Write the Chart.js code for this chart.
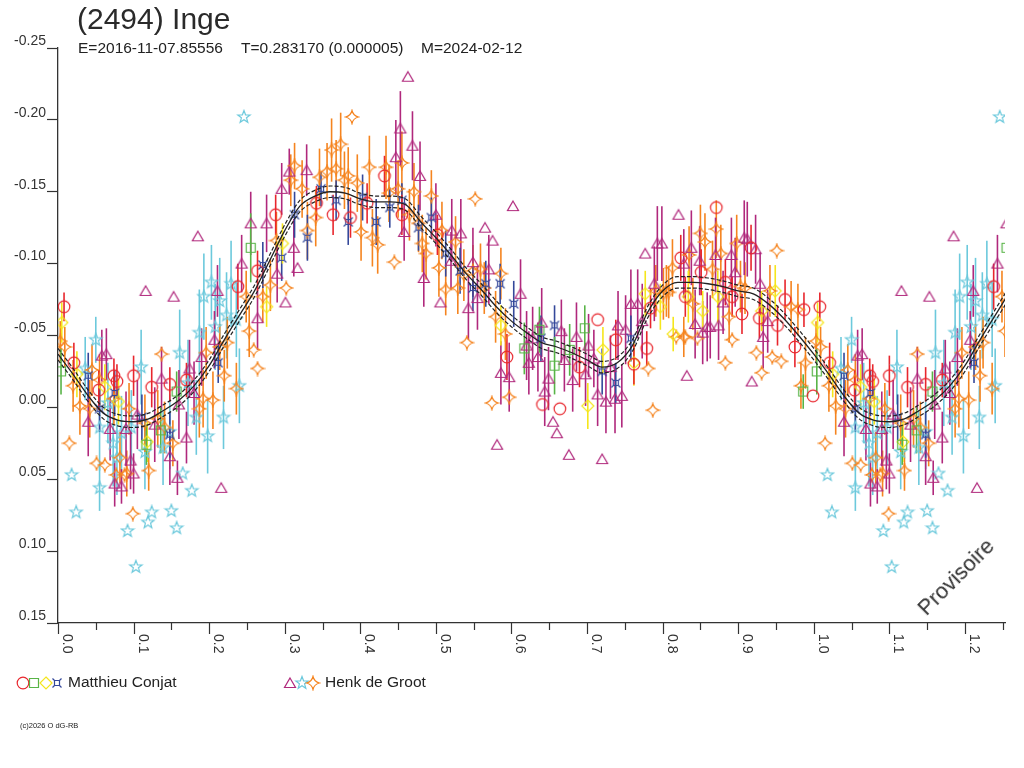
<!DOCTYPE html>
<html>
<head>
<meta charset="utf-8">
<title>(2494) Inge</title>
<script src="https://cdn.jsdelivr.net/npm/chart.js@4.4.1/dist/chart.umd.min.js"></script>
<style>
body { margin: 0; background: #fff; font-family: "Liberation Sans", Arial, sans-serif; color: #222; }
#wrap { position: relative; width: 1024px; height: 768px; overflow: hidden; }
canvas { position: absolute; left: 0; top: 0; }
.t { position: absolute; white-space: pre; line-height: 1; }
</style>
</head>
<body>
<div id="wrap">
<canvas id="lc" width="1024" height="768"></canvas>
<div class="t" style="left:77px;top:4px;font-size:30px;color:#2a2a2a">(2494) Inge</div>
<div class="t" style="left:78px;top:40px;font-size:15.5px">E=2016-11-07.85556</div>
<div class="t" style="left:241px;top:40px;font-size:15.5px">T=0.283170 (0.000005)</div>
<div class="t" style="left:421px;top:40px;font-size:15.5px">M=2024-02-12</div>
<div class="t" style="left:68px;top:674px;font-size:15.5px">Matthieu Conjat</div>
<div class="t" style="left:325px;top:674px;font-size:15.5px">Henk de Groot</div>
<div class="t" style="left:20px;top:722px;font-size:7.5px">(c)2026 O dG-RB</div>
<div class="t" style="left:956px;top:577px;font-size:22px;color:#333;transform:translate(-50%,-50%) rotate(-45deg)">Provisoire</div>
</div>
<script>
// phase range shown (phase-folded, 0..1 repeated past 1.0)
const xMax = 1.253;
const xTickValues = [0, 0.05, 0.1, 0.15, 0.2, 0.25, 0.3, 0.35, 0.4, 0.45, 0.5, 0.55, 0.6, 0.65,
    0.7, 0.75, 0.8, 0.85, 0.9, 0.95, 1.0, 1.05, 1.1, 1.15, 1.2, 1.25];
const xTickLabels = ['0.0', '', '0.1', '', '0.2', '', '0.3', '', '0.4', '', '0.5', '', '0.6', '',
    '0.7', '', '0.8', '', '0.9', '', '1.0', '', '1.1', '', '1.2', ''];
const yTickValues = [-0.25, -0.20, -0.15, -0.10, -0.05, 0.00, 0.05, 0.10, 0.15];
const yTickLabels = ['-0.25', '-0.20', '-0.15', '-0.10', '-0.05', '0.00', '0.05', '0.10', '0.15'];

// fitted light curve (phase, magnitude) and its uncertainty
const fitPhase = [0.00, 0.02, 0.04, 0.06, 0.08, 0.10, 0.12, 0.14, 0.16, 0.18, 0.20, 0.22, 0.24,
    0.26, 0.28, 0.30, 0.32, 0.34, 0.36, 0.38, 0.40, 0.42, 0.44, 0.46, 0.48, 0.50, 0.52, 0.54,
    0.56, 0.58, 0.60, 0.62, 0.64, 0.66, 0.68, 0.70, 0.72, 0.74, 0.76, 0.78, 0.80, 0.82, 0.84,
    0.86, 0.88, 0.90, 0.92, 0.94, 0.96, 0.98];
const fitMag = [-0.037, -0.023, -0.008, 0.004, 0.009, 0.010, 0.008, 0.002, -0.005, -0.015, -0.029,
    -0.047, -0.064, -0.081, -0.102, -0.123, -0.140, -0.147, -0.150, -0.149, -0.145, -0.143,
    -0.143, -0.141, -0.129, -0.118, -0.106, -0.093, -0.082, -0.070, -0.060, -0.052, -0.045,
    -0.042, -0.038, -0.033, -0.028, -0.031, -0.043, -0.066, -0.081, -0.087, -0.087, -0.086,
    -0.084, -0.081, -0.079, -0.072, -0.062, -0.050];
const fitSigma = 0.004;

// observations: [phase, magnitude, error]
const conjatCircle = [[0.008, -0.070, 0.010], [0.021, -0.031, 0.014], [0.054, -0.012, 0.014],
    [0.074, -0.022, 0.012], [0.078, -0.018, 0.012], [0.100, -0.022, 0.014], [0.124, -0.014, 0.014],
    [0.148, -0.016, 0.012], [0.170, -0.019, 0.012], [0.238, -0.084, 0.016], [0.264, -0.095, 0.014],
    [0.288, -0.134, 0.014], [0.342, -0.142, 0.012], [0.364, -0.134, 0.014], [0.387, -0.132, 0.014],
    [0.409, -0.142, 0.014], [0.432, -0.161, 0.014], [0.455, -0.134, 0.014], [0.502, -0.120, 0.014],
    [0.594, -0.035, 0.016], [0.641, -0.002, 0], [0.664, 0.001, 0], [0.690, -0.028, 0.014],
    [0.714, -0.061, 0], [0.738, -0.047, 0.014], [0.762, -0.030, 0.014], [0.779, -0.041, 0.012],
    [0.784, -0.069, 0.014], [0.824, -0.104, 0.016], [0.830, -0.077, 0.014], [0.851, -0.094, 0.016],
    [0.871, -0.139, 0], [0.883, -0.087, 0.016], [0.892, -0.077, 0.014], [0.905, -0.065, 0.014],
    [0.917, -0.111, 0.016], [0.928, -0.062, 0.014], [0.952, -0.057, 0.014], [0.962, -0.075, 0.014],
    [0.975, -0.042, 0.014], [0.987, -0.068, 0.012], [0.999, -0.008, 0]];
const conjatSquare = [[0.004, -0.025, 0.016], [0.117, 0.026, 0.014], [0.136, 0.016, 0.016],
    [0.157, -0.011, 0.014], [0.255, -0.111, 0.024], [0.617, -0.041, 0.018], [0.637, -0.054, 0.016],
    [0.657, -0.029, 0.020], [0.677, -0.040, 0.018], [0.697, -0.055, 0.016], [0.986, -0.011, 0.012]];
const conjatDiamond = [[0.005, -0.059, 0.014], [0.025, -0.023, 0.016], [0.062, -0.014, 0.016],
    [0.080, -0.004, 0.016], [0.118, 0.024, 0.014], [0.276, -0.070, 0.014], [0.297, -0.114, 0.014],
    [0.586, -0.057, 0.014], [0.701, -0.001, 0.016], [0.721, -0.040, 0.016], [0.762, -0.031, 0.016],
    [0.777, -0.079, 0.016], [0.797, -0.070, 0.016], [0.814, -0.051, 0.012], [0.834, -0.077, 0.018],
    [0.853, -0.067, 0.014], [0.873, -0.077, 0.018], [0.931, -0.067, 0.014], [0.949, -0.081, 0.018]];
const conjatCross = [[0.040, -0.022, 0.016], [0.055, 0.001, 0.016], [0.075, -0.010, 0.016],
    [0.111, 0.007, 0.016], [0.148, 0.019, 0.016], [0.212, -0.031, 0.014], [0.271, -0.099, 0.016],
    [0.296, -0.104, 0.016], [0.313, -0.134, 0.016], [0.330, -0.118, 0.016], [0.348, -0.152, 0.012],
    [0.368, -0.144, 0.014], [0.384, -0.129, 0.016], [0.403, -0.146, 0.016], [0.421, -0.129, 0.016],
    [0.439, -0.139, 0.014], [0.455, -0.144, 0.012], [0.477, -0.125, 0.016], [0.494, -0.132, 0.014],
    [0.513, -0.107, 0.016], [0.532, -0.095, 0.016], [0.549, -0.083, 0.016], [0.566, -0.086, 0.016],
    [0.585, -0.086, 0.014], [0.603, -0.072, 0.016], [0.639, -0.048, 0.016], [0.657, -0.057, 0.014],
    [0.720, -0.025, 0.016], [0.738, -0.017, 0.014], [0.758, -0.048, 0.016]];
const grootTriangle = [[0.040, 0.010, 0.024], [0.058, -0.036, 0.018], [0.064, -0.037, 0.018],
    [0.069, 0.015, 0.022], [0.075, 0.053, 0.016], [0.084, 0.055, 0.012], [0.090, 0.015, 0.026],
    [0.096, 0.037, 0.020], [0.100, 0.046, 0.014], [0.105, 0.005, 0.024], [0.116, -0.081, 0],
    [0.128, 0.012, 0.026], [0.137, -0.020, 0.022], [0.148, 0.034, 0.020], [0.153, -0.077, 0],
    [0.158, 0.049, 0.012], [0.160, -0.002, 0.024], [0.170, 0.021, 0.018], [0.174, -0.027, 0.020],
    [0.180, -0.010, 0.022], [0.185, -0.119, 0], [0.190, -0.035, 0.020], [0.207, -0.047, 0.020],
    [0.211, -0.081, 0.018], [0.216, 0.056, 0], [0.243, -0.100, 0.020], [0.255, -0.128, 0.022],
    [0.264, -0.062, 0.022], [0.276, -0.128, 0.020], [0.290, -0.093, 0.020], [0.296, -0.152, 0.018],
    [0.301, -0.073, 0], [0.306, -0.164, 0.016], [0.312, -0.111, 0.020], [0.317, -0.097, 0],
    [0.329, -0.165, 0.018], [0.447, -0.174, 0.026], [0.453, -0.194, 0.026], [0.458, -0.122, 0.020],
    [0.463, -0.230, 0], [0.469, -0.182, 0.024], [0.479, -0.161, 0.024], [0.484, -0.090, 0.020],
    [0.500, -0.134, 0.022], [0.506, -0.073, 0], [0.520, -0.102, 0.020], [0.521, -0.123, 0.022],
    [0.533, -0.121, 0.024], [0.543, -0.069, 0.022], [0.549, -0.101, 0.024], [0.555, -0.076, 0.022],
    [0.565, -0.125, 0], [0.570, -0.096, 0.024], [0.575, -0.116, 0], [0.581, 0.026, 0],
    [0.586, -0.024, 0.022], [0.597, -0.021, 0.024], [0.602, -0.140, 0], [0.612, -0.079, 0.024],
    [0.620, -0.043, 0.024], [0.623, -0.031, 0.022], [0.628, -0.048, 0.022], [0.635, -0.035, 0.024],
    [0.640, -0.059, 0.024], [0.644, -0.011, 0.024], [0.649, -0.020, 0.022], [0.655, 0.010, 0],
    [0.660, 0.018, 0], [0.666, -0.053, 0.022], [0.670, -0.033, 0.022], [0.676, 0.033, 0],
    [0.681, -0.019, 0.022], [0.686, -0.049, 0.024], [0.698, -0.023, 0.022], [0.702, -0.043, 0.022],
    [0.709, -0.034, 0.020], [0.714, -0.009, 0.022], [0.720, 0.036, 0], [0.725, -0.004, 0.022],
    [0.731, -0.028, 0.022], [0.737, -0.006, 0.024], [0.741, -0.057, 0.024], [0.746, -0.008, 0.022],
    [0.751, -0.054, 0.024], [0.758, -0.072, 0.024], [0.767, -0.072, 0.024], [0.773, -0.060, 0.026],
    [0.777, -0.107, 0], [0.789, -0.086, 0.026], [0.793, -0.114, 0.026], [0.799, -0.114, 0.026],
    [0.821, -0.134, 0], [0.828, -0.100, 0.024], [0.832, -0.022, 0], [0.838, -0.111, 0.026],
    [0.843, -0.058, 0.024], [0.849, -0.102, 0.024], [0.853, -0.052, 0.022], [0.859, -0.056, 0.024],
    [0.863, -0.056, 0.022], [0.870, -0.106, 0.026], [0.874, -0.057, 0.024], [0.880, -0.073, 0.022],
    [0.891, -0.106, 0.026], [0.896, -0.094, 0.024], [0.908, -0.118, 0.026], [0.912, -0.117, 0.026],
    [0.918, -0.018, 0], [0.923, -0.110, 0.024], [0.929, -0.086, 0.022], [0.933, -0.049, 0.022],
    [0.939, -0.060, 0.022]];
const grootStar = [[0.018, 0.047, 0], [0.024, 0.073, 0], [0.036, -0.027, 0.022], [0.050, -0.047, 0.016],
    [0.055, 0.014, 0.030], [0.055, 0.056, 0.016], [0.066, -0.003, 0.028], [0.073, 0.025, 0.030],
    [0.078, 0.035, 0.026], [0.084, 0.018, 0.026], [0.092, 0.086, 0], [0.097, 0.014, 0.026],
    [0.103, 0.111, 0], [0.110, -0.028, 0.026], [0.115, 0.031, 0.026], [0.119, 0.080, 0],
    [0.124, 0.073, 0], [0.139, 0.028, 0.026], [0.148, 0.017, 0.026], [0.150, 0.072, 0],
    [0.157, 0.084, 0], [0.161, -0.038, 0.030], [0.165, 0.046, 0], [0.172, -0.017, 0.030],
    [0.177, 0.058, 0], [0.183, 0.007, 0.026], [0.187, -0.052, 0.030], [0.193, -0.077, 0.030],
    [0.198, 0.020, 0.026], [0.203, -0.087, 0.026], [0.208, -0.056, 0.030], [0.214, -0.074, 0.030],
    [0.219, 0.007, 0.022], [0.223, -0.064, 0.030], [0.229, -0.086, 0.030], [0.236, -0.061, 0.026],
    [0.240, -0.015, 0.026], [0.246, -0.202, 0]];
const grootCusp = [[0.003, -0.046, 0.014], [0.009, -0.042, 0.014], [0.015, 0.025, 0], [0.020, -0.015, 0.018],
    [0.029, -0.001, 0.020], [0.042, 0.001, 0.020], [0.045, -0.026, 0.018], [0.051, 0.039, 0],
    [0.055, -0.019, 0.018], [0.062, 0.040, 0], [0.074, -0.006, 0.018], [0.077, 0.047, 0],
    [0.082, 0.035, 0.018], [0.088, 0.047, 0], [0.091, 0.046, 0.016], [0.094, 0.001, 0.018],
    [0.099, 0.074, 0], [0.115, 0.011, 0.020], [0.120, 0.044, 0.014], [0.132, 0.008, 0.020],
    [0.137, -0.037, 0], [0.141, 0.014, 0.018], [0.152, 0.025, 0.016], [0.187, 0.001, 0.020],
    [0.192, -0.006, 0.020], [0.196, -0.038, 0.018], [0.205, -0.005, 0.020], [0.214, -0.042, 0.016],
    [0.220, -0.022, 0.018], [0.224, -0.045, 0.018], [0.236, -0.013, 0.018], [0.249, -0.077, 0.018],
    [0.253, -0.053, 0.018], [0.259, -0.040, 0], [0.264, -0.027, 0], [0.271, -0.077, 0.018],
    [0.281, -0.085, 0.018], [0.289, -0.116, 0.020], [0.302, -0.083, 0], [0.308, -0.158, 0.018],
    [0.313, -0.168, 0.016], [0.323, -0.152, 0.020], [0.330, -0.123, 0.020], [0.341, -0.132, 0.020],
    [0.346, -0.160, 0.020], [0.356, -0.164, 0.020], [0.362, -0.179, 0.022], [0.368, -0.166, 0.020],
    [0.374, -0.183, 0.022], [0.379, -0.158, 0.020], [0.384, -0.161, 0.020], [0.389, -0.202, 0],
    [0.396, -0.156, 0.020], [0.401, -0.122, 0.020], [0.412, -0.167, 0.022], [0.416, -0.118, 0.020],
    [0.423, -0.113, 0.020], [0.434, -0.167, 0.022], [0.438, -0.149, 0.020], [0.445, -0.101, 0],
    [0.450, -0.152, 0.020], [0.455, -0.170, 0.022], [0.465, -0.134, 0.018], [0.471, -0.150, 0.020],
    [0.477, -0.128, 0.020], [0.482, -0.114, 0.020], [0.487, -0.107, 0.018], [0.494, -0.147, 0.018],
    [0.504, -0.097, 0.020], [0.508, -0.123, 0.020], [0.513, -0.082, 0.018], [0.526, -0.115, 0.018],
    [0.529, -0.083, 0.018], [0.537, -0.092, 0.018], [0.541, -0.045, 0], [0.549, -0.095, 0.018],
    [0.552, -0.145, 0], [0.559, -0.096, 0.018], [0.564, -0.083, 0.018], [0.574, -0.003, 0],
    [0.579, -0.063, 0.018], [0.586, -0.093, 0.018], [0.592, -0.051, 0.018], [0.597, -0.007, 0],
    [0.781, -0.027, 0], [0.787, 0.002, 0], [0.791, -0.081, 0.018], [0.801, -0.079, 0.018],
    [0.805, -0.081, 0.018], [0.808, -0.080, 0.018], [0.813, -0.097, 0.020], [0.818, -0.049, 0],
    [0.828, -0.049, 0.014], [0.830, -0.049, 0], [0.835, -0.106, 0.020], [0.840, -0.072, 0.018],
    [0.846, -0.048, 0], [0.850, -0.121, 0.020], [0.856, -0.115, 0.020], [0.866, -0.096, 0.020],
    [0.871, -0.124, 0.020], [0.877, -0.107, 0.020], [0.883, -0.031, 0], [0.888, -0.063, 0.018],
    [0.892, -0.047, 0], [0.898, -0.114, 0.020], [0.903, -0.084, 0.018], [0.909, -0.083, 0.018],
    [0.924, -0.038, 0], [0.931, -0.024, 0], [0.942, -0.081, 0.018], [0.945, -0.035, 0],
    [0.951, -0.109, 0], [0.957, -0.032, 0], [0.970, -0.070, 0.018], [0.979, -0.068, 0.018],
    [0.983, -0.015, 0.016], [0.989, -0.031, 0.018]];

const RED = '#e8262d', GREEN = '#58b447', YELLOW = '#f5e61c', BLUE = '#34489a';
const PURPLE = '#b0287c', CYAN = '#6cc9dc', ORANGE = '#f5841f';

// small outlined marker images
function marker(color, draw) {
    const c = document.createElement('canvas');
    c.width = 16;
    c.height = 16;
    const g = c.getContext('2d');
    g.translate(8, 8);
    g.strokeStyle = color;
    g.lineWidth = 1.2;
    g.beginPath();
    draw(g);
    g.stroke();
    return c;
}
const mCircle = marker(RED, g => g.arc(0, 0, 5.8, 0, Math.PI * 2));
const mSquare = marker(GREEN, g => g.rect(-4.5, -4.5, 9, 9));
const mDiamond = marker(YELLOW, g => {
    g.moveTo(0, -6); g.lineTo(6, 0); g.lineTo(0, 6); g.lineTo(-6, 0); g.closePath();
});
const mCross = marker(BLUE, g => {
    g.rect(-2.5, -2.5, 5, 5);
    g.moveTo(-2.5, -2.5); g.lineTo(-4.5, -4.5);
    g.moveTo(2.5, -2.5); g.lineTo(4.5, -4.5);
    g.moveTo(-2.5, 2.5); g.lineTo(-4.5, 4.5);
    g.moveTo(2.5, 2.5); g.lineTo(4.5, 4.5);
});
const mTriangle = marker(PURPLE, g => {
    g.moveTo(0, -5); g.lineTo(5.5, 4.5); g.lineTo(-5.5, 4.5); g.closePath();
});
const mStar = marker(CYAN, g => {
    for (let i = 0; i < 10; i++) {
        const r = i % 2 ? 2.7 : 6.5;
        const a = -Math.PI / 2 + i * Math.PI / 5;
        if (i === 0) g.moveTo(r * Math.cos(a), r * Math.sin(a));
        else g.lineTo(r * Math.cos(a), r * Math.sin(a));
    }
    g.closePath();
});
const mCusp = marker(ORANGE, g => {
    g.moveTo(0, -6.5);
    g.quadraticCurveTo(1.2, -1.2, 6.5, 0);
    g.quadraticCurveTo(1.2, 1.2, 0, 6.5);
    g.quadraticCurveTo(-1.2, 1.2, -6.5, 0);
    g.quadraticCurveTo(-1.2, -1.2, 0, -6.5);
    g.closePath();
});

// repeat the start of the folded phase past 1.0, as the plot does
function fold(rows) {
    const out = rows.slice();
    rows.forEach(r => { if (r[0] + 1 <= xMax + 0.01) out.push([r[0] + 1, r[1], r[2]]); });
    return out;
}

function obsDataset(label, rows, img, color) {
    const all = fold(rows);
    return {
        type: 'scatter',
        label: label,
        data: all.map(r => ({ x: r[0], y: r[1] })),
        errs: all.map(r => r[2]),
        barColor: color,
        pointStyle: img,
        pointRadius: 7,
        pointHoverRadius: 7
    };
}

function fitDataset(offset, dashed) {
    const pts = fitPhase.map((p, i) => ({ x: p, y: fitMag[i] + offset }));
    fitPhase.forEach((p, i) => {
        if (p + 1 <= 1.27) pts.push({ x: p + 1, y: fitMag[i] + offset });
    });
    return {
        type: 'line',
        data: pts,
        borderColor: '#222',
        borderWidth: dashed ? 1.2 : 1.3,
        borderDash: dashed ? [4, 2] : [],
        pointRadius: 0,
        fill: false,
        cubicInterpolationMode: 'monotone'
    };
}

const errorBars = {
    id: 'errorBars',
    beforeDatasetsDraw(chart) {
        const { ctx, chartArea: a, scales: { x, y } } = chart;
        ctx.save();
        ctx.beginPath();
        ctx.rect(a.left, a.top, a.right - a.left, a.bottom - a.top);
        ctx.clip();
        ctx.lineWidth = 1.6;
        chart.data.datasets.slice().reverse().forEach(ds => {
            if (!ds.errs) return;
            ctx.strokeStyle = ds.barColor;
            ds.data.forEach((p, i) => {
                const e = ds.errs[i];
                if (!e) return;
                const px = x.getPixelForValue(p.x);
                ctx.beginPath();
                ctx.moveTo(px, y.getPixelForValue(p.y - e));
                ctx.lineTo(px, y.getPixelForValue(p.y + e));
                ctx.stroke();
            });
        });
        ctx.restore();
    }
};

// x ticks: long at labelled values, short between; labels turned a quarter clockwise
const xAxisTicks = {
    id: 'xAxisTicks',
    afterDraw(chart) {
        const { ctx, chartArea: a, scales: { x } } = chart;
        ctx.save();
        ctx.strokeStyle = '#333';
        ctx.lineWidth = 1.2;
        ctx.fillStyle = '#333';
        ctx.font = '14px "Liberation Sans", Arial, sans-serif';
        xTickValues.forEach((v, i) => {
            const px = Math.round(x.getPixelForValue(v)) + 0.5;
            const len = xTickLabels[i] ? 11 : 7;
            ctx.beginPath();
            ctx.moveTo(px, a.bottom);
            ctx.lineTo(px, a.bottom + len);
            ctx.stroke();
            if (xTickLabels[i]) {
                ctx.save();
                ctx.translate(px + 1, a.bottom + 11);
                ctx.rotate(Math.PI / 2);
                ctx.textAlign = 'left';
                ctx.textBaseline = 'bottom';
                ctx.fillText(xTickLabels[i], 0, 0);
                ctx.restore();
            }
        });
        ctx.restore();
    }
};

const legendMarks = {
    id: 'legendMarks',
    afterDraw(chart) {
        const ctx = chart.ctx;
        [[mCircle, 23], [mSquare, 34], [mDiamond, 46], [mCross, 57],
         [mTriangle, 290], [mStar, 302], [mCusp, 313]].forEach(m => {
            ctx.drawImage(m[0], m[1] - 8, 683 - 8);
        });
    }
};

function renderLightCurve() {
    const ctx = document.getElementById('lc').getContext('2d');
    new Chart(ctx, {
        type: 'scatter',
        data: {
            datasets: [
                fitDataset(0, false),
                fitDataset(-fitSigma, true),
                fitDataset(fitSigma, true),
                obsDataset('Matthieu Conjat', conjatCircle, mCircle, RED),
                obsDataset('Matthieu Conjat', conjatSquare, mSquare, GREEN),
                obsDataset('Matthieu Conjat', conjatDiamond, mDiamond, YELLOW),
                obsDataset('Matthieu Conjat', conjatCross, mCross, BLUE),
                obsDataset('Henk de Groot', grootTriangle, mTriangle, PURPLE),
                obsDataset('Henk de Groot', grootCusp, mCusp, ORANGE),
                obsDataset('Henk de Groot', grootStar, mStar, CYAN)
            ]
        },
        options: {
            responsive: false,
            animation: false,
            devicePixelRatio: 1,
            layout: { padding: { left: 0, top: 48, right: 19, bottom: 0 } },
            plugins: { legend: { display: false }, tooltip: { enabled: false } },
            scales: {
                x: {
                    type: 'linear',
                    min: 0,
                    max: xMax,
                    afterFit: s => { s.height = 145; },
                    ticks: { display: false },
                    grid: { display: false },
                    border: { display: true, color: '#333', width: 1.3 }
                },
                y: {
                    type: 'linear',
                    reverse: true,
                    min: -0.25,
                    max: 0.15,
                    afterBuildTicks: s => { s.ticks = yTickValues.map(v => ({ value: v })); },
                    afterFit: s => { s.width = 58; },
                    ticks: {
                        callback: (v, i) => yTickLabels[i],
                        font: { family: '"Liberation Sans", Arial, sans-serif', size: 14 },
                        color: '#333',
                        padding: 1,
                        labelOffset: -7
                    },
                    grid: { drawOnChartArea: false, drawTicks: true, tickLength: 11, color: '#333', tickWidth: 1.2 },
                    border: { display: true, color: '#333', width: 1.3 }
                }
            }
        },
        plugins: [errorBars, xAxisTicks, legendMarks]
    });
}

window.onload = renderLightCurve;
</script>
</body>
</html>
